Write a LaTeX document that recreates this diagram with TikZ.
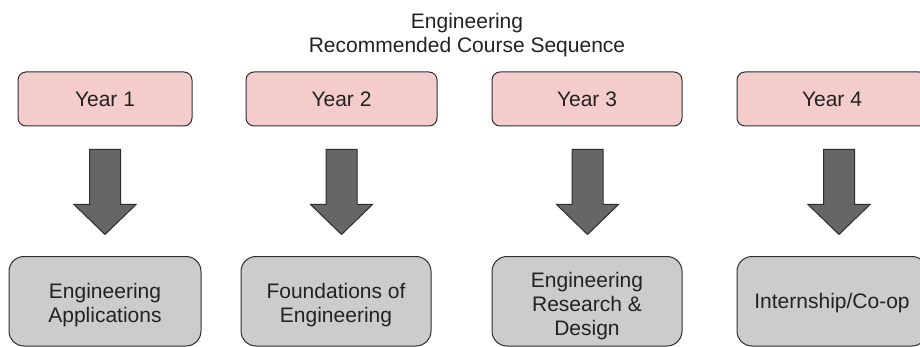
\documentclass[tikz,border=0pt]{standalone}
\usepackage{fontspec}
\setmainfont{Liberation Sans}
\usetikzlibrary{calc}
\definecolor{pinkfill}{HTML}{F4CCCC}
\definecolor{greyfill}{HTML}{CCCCCC}
\definecolor{arrowgrey}{HTML}{666666}
\definecolor{edgecol}{HTML}{2E2E2E}
\definecolor{ink}{HTML}{222222}
\begin{document}
\begin{tikzpicture}[x=1pt,y=-1pt,
  every node/.style={font=\fontsize{21}{24}\selectfont, text=ink},
  box/.style={draw=edgecol, line width=1pt, align=center, inner sep=0pt},
  yearbox/.style={box, fill=pinkfill, rounded corners=8pt, minimum height=54pt},
  coursebox/.style={box, fill=greyfill, rounded corners=15pt, minimum height=89.5pt},
  coursetext/.style={align=center, inner sep=0pt},
  titletext/.style={anchor=base, inner sep=0pt},
  blockarrow/.style={fill=arrowgrey, draw=edgecol, line width=1pt, line join=miter}]
\useasboundingbox (0,0) rectangle (920,347);
\clip (0,0) rectangle (920,347);
\fill[white] (0,0) rectangle (920,347);

\node[titletext] (t1) at (467,28.5) {Engineering};
\node[titletext] (t2) at (467,53) {Recommended Course Sequence};

\node[yearbox, minimum width=174pt] (y1) at (105,99) {Year 1};
\node[yearbox, minimum width=191pt] (y2) at (341.5,99) {Year 2};
\node[yearbox, minimum width=190pt] (y3) at (587,99) {Year 3};
\node[yearbox, minimum width=190pt] (y4) at (832,99) {Year 4};

\node[coursebox, minimum width=192pt] (c1) at (105,301.25) {};
\node[coursebox, minimum width=190pt] (c2) at (336,301.25) {};
\node[coursebox, minimum width=190pt] (c3) at (587,301.25) {};
\node[coursebox, minimum width=190pt] (c4) at (832,301.25) {};

\node[coursetext] (c1t) at ($(c1.center)+(0pt,-4pt)$) {Engineering\\Applications};
\node[coursetext] (c2t) at ($(c2.center)+(0pt,-4pt)$) {Foundations of\\Engineering};
\node[coursetext] (c3t) at ($(c3.center)+(0pt,-4.5pt)$) {Engineering\\Research \&\\Design};
\node[coursetext] (c4t) at ($(c4.center)+(0pt,-2pt)$) {Internship/Co-op};

\foreach \n/\dx in {y1/0,y2/0,y3/0.5,y4/7} {
  \draw[blockarrow] ($(\n.south)+(\dx pt-15.5pt,-23pt)$) -- ++(31pt,0pt) -- ++(0pt,-55pt)
    -- ++(15.5pt,0pt) -- ++(-31pt,-30pt) -- ++(-31pt,30pt) -- ++(15.5pt,0pt) -- cycle;
}
\end{tikzpicture}
\end{document}
